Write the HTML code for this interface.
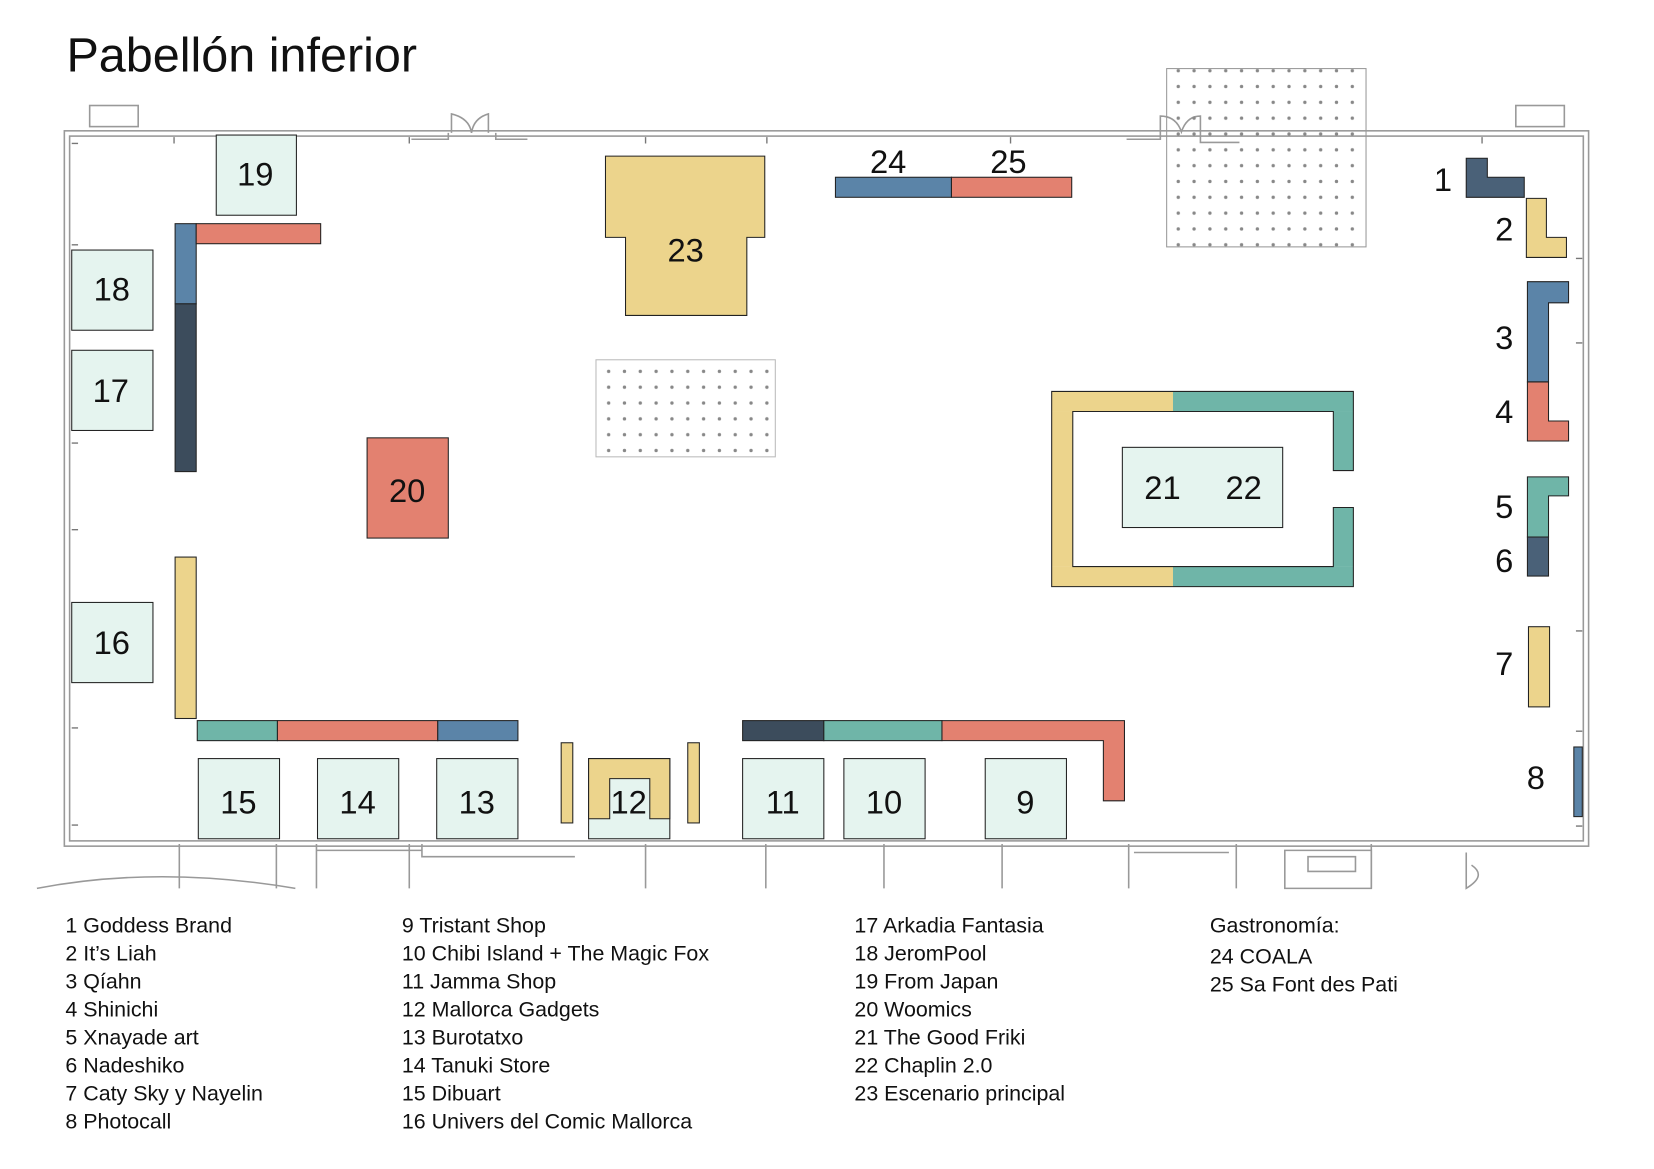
<!DOCTYPE html>
<html><head><meta charset="utf-8"><style>
html,body{margin:0;padding:0;background:#fff;}
svg{display:block;}
text{font-family:"Liberation Sans",sans-serif;fill:#111;}
</style></head><body>
<svg width="1654" height="1169" viewBox="0 0 1568 1108" preserveAspectRatio="none" xmlns="http://www.w3.org/2000/svg">
<defs>
<pattern id="dots" width="15" height="15" patternUnits="userSpaceOnUse"><circle cx="7" cy="7" r="1.6" fill="#888"/></pattern>
</defs>
<text x="63" y="68" font-size="46">Pabellón inferior</text>
<g fill="none" stroke="#999" stroke-width="1.5">
<rect x="61" y="124" width="1445" height="678"/>
<rect x="66" y="129" width="1435" height="668"/>
<rect x="85" y="100" width="46" height="20"/>
<rect x="1437" y="100" width="46" height="20"/>
<path d="M428 126 V108 Q445 112 447 126 Q449 112 463 108 V126"/>
<path d="M390 132 H425 V126 M470 126 V132 H500"/>
<path d="M1068 132 H1100 V110 Q1115 110 1120 125 Q1125 110 1138 110 V135 H1175"/>
<path d="M170 800 V842 M262 800 V842 M300 800 V842 M388 800 V842 M612 800 V842 M726 800 V842 M838 800 V842 M950 800 V842 M1070 800 V842 M1172 800 V842 M1300 800 V842"/>
<path d="M300 806 H400 M400 800 V812 H545 M1075 808 H1165 M1390 808 V842 Q1410 830 1395 820"/>
<path d="M35 842 Q150 820 280 842"/>
<path d="M1218 806 H1300 V842 H1218 Z M1240 812 H1285 V826 H1240 Z"/>
</g>
<g stroke="#777" stroke-width="1.3">
<path d="M165 130 V136 M388 130 V136 M612 130 V136 M727 130 V136 M958 130 V136 M1405 130 V136 M68 136 H74 M68 232 H74 M68 420 H74 M68 502 H74 M68 690 H74 M68 782 H74 M1494 245 H1500 M1494 325 H1500 M1494 598 H1500 M1494 693 H1500 M1494 783 H1500"/>
</g>
<rect x="1106" y="65" width="189" height="169" fill="url(#dots)" stroke="#999" stroke-width="1"/>
<rect x="565" y="341" width="170" height="92" fill="url(#dots)" stroke="#bbb" stroke-width="1"/>
<g stroke="#222" stroke-width="1">
<g fill="#e5f4ef">
<rect x="205" y="128" width="76" height="76"/>
<rect x="68" y="237" width="77" height="76"/>
<rect x="68" y="332" width="77" height="76"/>
<rect x="68" y="571" width="77" height="76"/>
<rect x="1064" y="424" width="152" height="76"/>
<rect x="188" y="719" width="77" height="76"/>
<rect x="301" y="719" width="77" height="76"/>
<rect x="414" y="719" width="77" height="76"/>
<rect x="558" y="719" width="77" height="76"/>
<rect x="704" y="719" width="77" height="76"/>
<rect x="800" y="719" width="77" height="76"/>
<rect x="934" y="719" width="77" height="76"/>
</g>
<rect x="166" y="212" width="20" height="76" fill="#5b84a8"/>
<rect x="166" y="288" width="20" height="159" fill="#3c4c5c"/>
<rect x="186" y="212" width="118" height="19" fill="#e38170"/>
<rect x="166" y="528" width="20" height="153" fill="#ecd48c"/>
<polygon points="574,148 725,148 725,225 708,225 708,299 593,299 593,225 574,225" fill="#ecd48c"/>
<rect x="792" y="168" width="110" height="19" fill="#5b84a8"/>
<rect x="902" y="168" width="114" height="19" fill="#e38170"/>
<rect x="348" y="415" width="77" height="95" fill="#e38170"/>
<rect x="997" y="371" width="115" height="19" fill="#ecd48c" stroke="none"/>
<rect x="1112" y="371" width="171" height="19" fill="#6fb5a8" stroke="none"/>
<rect x="997" y="537" width="115" height="19" fill="#ecd48c" stroke="none"/>
<rect x="1112" y="537" width="171" height="19" fill="#6fb5a8" stroke="none"/>
<rect x="997" y="390" width="20" height="147" fill="#ecd48c" stroke="none"/>
<rect x="1264" y="390" width="19" height="56" fill="#6fb5a8" stroke="none"/>
<rect x="1264" y="481" width="19" height="56" fill="#6fb5a8" stroke="none"/>
<path d="M997 371 H1283 V446 H1264 V390 H1017 V537 H1264 V481 H1283 V556 H997 Z" fill="none"/>
<polygon points="1390,150 1410,150 1410,168 1445,168 1445,187 1390,187" fill="#4a6178"/>
<polygon points="1447,188 1466,188 1466,225 1485,225 1485,244 1447,244" fill="#ecd48c"/>
<polygon points="1448,267 1487,267 1487,287 1468,287 1468,362 1448,362" fill="#5b84a8"/>
<polygon points="1448,362 1468,362 1468,399 1487,399 1487,418 1448,418" fill="#e38170"/>
<polygon points="1448,452 1487,452 1487,470 1468,470 1468,509 1448,509" fill="#6fb5a8"/>
<rect x="1448" y="509" width="20" height="37" fill="#4a6178"/>
<rect x="1449" y="594" width="20" height="76" fill="#ecd48c"/>
<rect x="1492" y="708" width="8" height="66" fill="#5b84a8"/>
<rect x="187" y="683" width="76" height="19" fill="#6fb5a8"/>
<rect x="263" y="683" width="152" height="19" fill="#e38170"/>
<rect x="415" y="683" width="76" height="19" fill="#5b84a8"/>
<rect x="532" y="704" width="11" height="76" fill="#ecd48c"/>
<rect x="652" y="704" width="11" height="76" fill="#ecd48c"/>
<polygon points="558,719 635,719 635,776 616,776 616,738 578,738 578,776 558,776" fill="#ecd48c"/>
<rect x="704" y="683" width="77" height="19" fill="#3c4c5c"/>
<rect x="781" y="683" width="112" height="19" fill="#6fb5a8"/>
<polygon points="893,683 1066,683 1066,759 1046,759 1046,702 893,702" fill="#e38170"/>
</g>
<g font-size="31" text-anchor="middle">
<text x="242" y="176">19</text>
<text x="106" y="285">18</text>
<text x="105" y="381">17</text>
<text x="106" y="620">16</text>
<text x="650" y="248">23</text>
<text x="842" y="164">24</text>
<text x="956" y="164">25</text>
<text x="386" y="476">20</text>
<text x="1102" y="473">21</text>
<text x="1179" y="473">22</text>
<text x="1368" y="181">1</text>
<text x="1426" y="228">2</text>
<text x="1426" y="331">3</text>
<text x="1426" y="401">4</text>
<text x="1426" y="491">5</text>
<text x="1426" y="542">6</text>
<text x="1426" y="640">7</text>
<text x="1456" y="748">8</text>
<text x="226" y="771">15</text>
<text x="339" y="771">14</text>
<text x="452" y="771">13</text>
<text x="596" y="771">12</text>
<text x="742" y="771">11</text>
<text x="838" y="771">10</text>
<text x="972" y="771">9</text>
</g>
<g font-size="20.3">
<text x="62" y="884">1 Goddess Brand</text>
<text x="62" y="910.5">2 It’s Liah</text>
<text x="62" y="937">3 Qíahn</text>
<text x="62" y="963.5">4 Shinichi</text>
<text x="62" y="990">5 Xnayade art</text>
<text x="62" y="1016.5">6 Nadeshiko</text>
<text x="62" y="1043">7 Caty Sky y Nayelin</text>
<text x="62" y="1069.5">8 Photocall</text>
<text x="381" y="884">9 Tristant Shop</text>
<text x="381" y="910.5">10 Chibi Island + The Magic Fox</text>
<text x="381" y="937">11 Jamma Shop</text>
<text x="381" y="963.5">12 Mallorca Gadgets</text>
<text x="381" y="990">13 Burotatxo</text>
<text x="381" y="1016.5">14 Tanuki Store</text>
<text x="381" y="1043">15 Dibuart</text>
<text x="381" y="1069.5">16 Univers del Comic Mallorca</text>
<text x="810" y="884">17 Arkadia Fantasia</text>
<text x="810" y="910.5">18 JeromPool</text>
<text x="810" y="937">19 From Japan</text>
<text x="810" y="963.5">20 Woomics</text>
<text x="810" y="990">21 The Good Friki</text>
<text x="810" y="1016.5">22 Chaplin 2.0</text>
<text x="810" y="1043">23 Escenario principal</text>
<text x="1147" y="884">Gastronomía:</text>
<text x="1147" y="913">24 COALA</text>
<text x="1147" y="940">25 Sa Font des Pati</text>
</g>
</svg>
</body></html>
